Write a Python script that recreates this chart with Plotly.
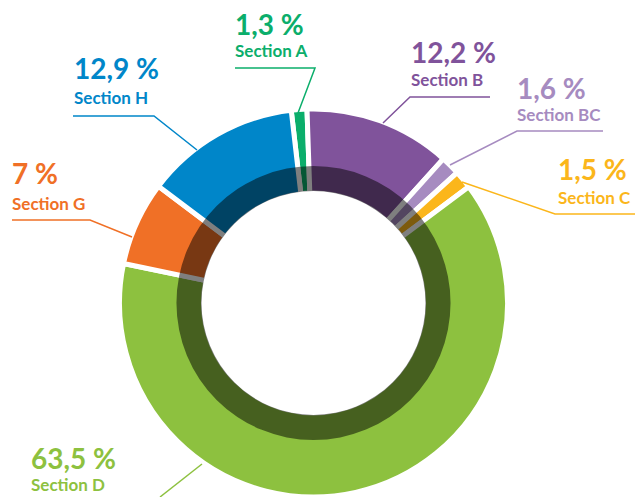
import plotly.graph_objects as go

# ---- data ----
sections = ["Section A", "Section B", "Section BC", "Section C", "Section D", "Section G", "Section H"]
shares = [1.3, 12.2, 1.6, 1.5, 63.5, 7.0, 12.9]
pct_labels = ["1,3 %", "12,2 %", "1,6 %", "1,5 %", "63,5 %", "7 %", "12,9 %"]
colors = ["#0BAE6B", "#80539B", "#A68BC0", "#FBB61B", "#8DC13F", "#F07026", "#0086C9"]

# ---- layout helpers (pixel positions of the figure) ----
W, H = 638, 497
def px(x):
    return x / W
def py(y):
    return 1 - y / H

cx, cy, R = 313.5, 303.0, 194.0     # pie centre / radius in px
hole_r = 110.0
ring_in, ring_out = 112.0, 137.0

# label positions: (text left x, pct cap-centre y, section cap-centre y)
label_pos = {
    "Section A": (235, 23.5, 50.5),
    "Section B": (411, 52, 79.5),
    "Section BC": (517, 87.5, 115),
    "Section C": (558, 169, 197.5),
    "Section D": (31, 457.5, 484.5),
    "Section G": (12, 173, 203.5),
    "Section H": (74, 68, 97.5),
}
# leader polylines in px
leaders = {
    "Section A": [(235, 68), (315, 68), (298, 113)],
    "Section B": [(490, 97), (410, 97), (383, 123)],
    "Section BC": [(603, 131), (517, 131), (450, 165)],
    "Section C": [(635, 214), (555, 214), (462, 182)],
    "Section D": [(160, 497), (202, 464)],
    "Section G": [(12, 220), (90, 220), (132, 237)],
    "Section H": [(73, 116), (154, 116), (197, 150)],
}

fig = go.Figure()
fig.add_trace(go.Pie(
    labels=sections, values=shares, sort=False, direction="clockwise",
    rotation=-6.6, hole=hole_r / R,
    marker=dict(colors=colors, line=dict(color="white", width=5)),
    textinfo="none", hoverinfo="label+percent", showlegend=False,
    domain=dict(x=[px(cx - R), px(cx + R)], y=[py(cy + R), py(cy - R)]),
))
fig.add_trace(go.Pie(
    labels=["ring"], values=[1], sort=False,
    hole=ring_in / ring_out,
    marker=dict(colors=["rgba(0,0,0,0.5)"], line=dict(width=0)),
    textinfo="none", hoverinfo="skip", showlegend=False,
    domain=dict(x=[px(cx - ring_out), px(cx + ring_out)],
                y=[py(cy + ring_out), py(cy - ring_out)]),
))

font_family = "Lato"
annotations = []
shapes = []
for name, pct, col in zip(sections, pct_labels, colors):
    lx, ypct, ysec = label_pos[name]
    annotations.append(dict(x=px(lx), y=py(ypct), xref="paper", yref="paper",
                            text="<b>" + pct + "</b>", showarrow=False,
                            xanchor="left", yanchor="middle", xshift=-2,
                            font=dict(family=font_family, size=28, color=col)))
    annotations.append(dict(x=px(lx), y=py(ysec), xref="paper", yref="paper",
                            text="<b>" + name + "</b>", showarrow=False,
                            xanchor="left", yanchor="middle", xshift=-2,
                            font=dict(family=font_family, size=17, color=col)))
    pts = leaders[name]
    path = "M " + " L ".join(f"{px(x)},{py(y)}" for x, y in pts)
    shapes.append(dict(type="path", path=path, xref="paper", yref="paper",
                       line=dict(color=col, width=1.5)))

fig.update_layout(
    width=W, height=H,
    margin=dict(l=0, r=0, t=0, b=0),
    paper_bgcolor="white", plot_bgcolor="white",
    annotations=annotations, shapes=shapes,
)
fig.write_html("out.html", config={"displayModeBar": False},
               post_script="document.body.style.margin='0';")
